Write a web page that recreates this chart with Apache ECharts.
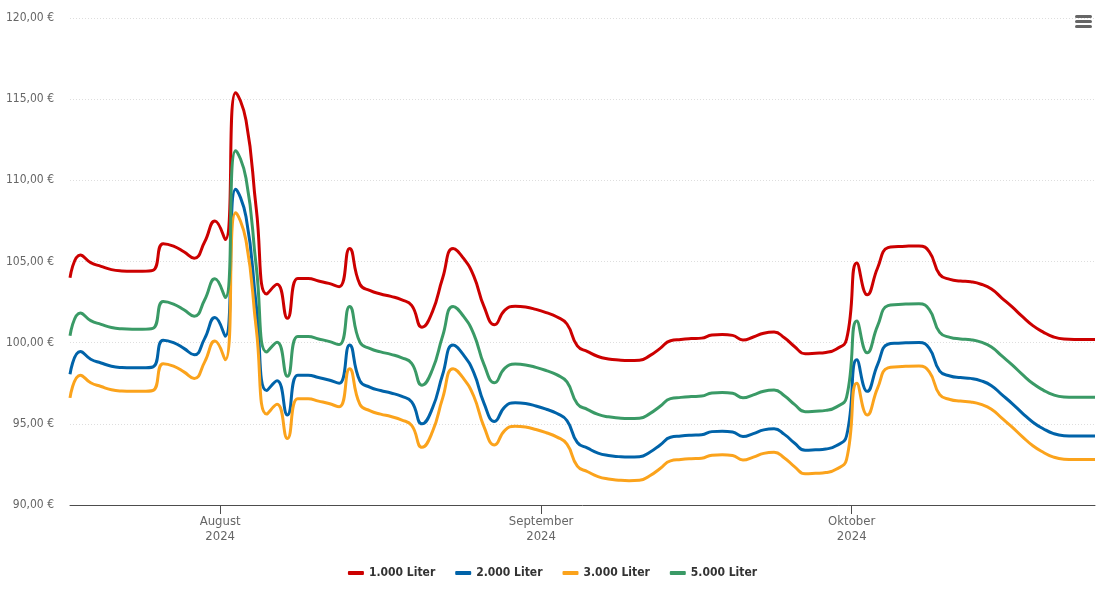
<!DOCTYPE html>
<html>
<head>
<meta charset="utf-8">
<script src="https://cdn.jsdelivr.net/npm/echarts@6/dist/echarts.min.js"></script>
<style>
  html, body { margin: 0; padding: 0; background: #ffffff; }
  #chart { width: 1105px; height: 603px; }
</style>
</head>
<body>
<div id="chart"></div>
<script>
// ---- data ----
const startDate = [2024, 6, 17]; // 17 July 2024, one value per day
const seriesNames = ['1.000 Liter', '2.000 Liter', '3.000 Liter', '5.000 Liter'];
const seriesColors = ['#cc0000', '#0063a9', '#fba31c', '#3a9a66'];

const liter1000 = [
  104.00, 105.40, 104.93, 104.70, 104.50, 104.42, 104.40, 104.40, 104.45, 106.10,
  105.95, 105.60, 105.20, 106.20, 107.50, 106.35, 115.40, 113.70, 108.20, 103.00,
  103.60, 101.50, 103.95, 103.95, 103.80, 103.65, 103.45, 105.80, 103.60, 103.20,
  103.00, 102.85, 102.65, 102.30, 100.95, 101.90, 104.00, 105.80, 105.20, 104.10,
  102.20, 101.10, 102.00, 102.25, 102.20, 102.05, 101.85, 101.60, 101.15, 99.80,
  99.45, 99.15, 99.00, 98.93, 98.90, 98.92, 99.20, 99.65, 100.12, 100.20,
  100.25, 100.28, 100.47, 100.50, 100.45, 100.17, 100.35, 100.58, 100.65, 100.30,
  99.75, 99.32, 99.35, 99.40, 99.60, 100.20, 104.90, 102.95, 104.60, 105.85,
  105.92, 105.95, 105.96, 105.60, 104.20, 103.90, 103.80, 103.75, 103.60, 103.30,
  102.75, 102.20, 101.60, 101.05, 100.65, 100.35, 100.22, 100.20, 100.20, 100.20
];
const liter2000 = [
  98.05, 99.45, 98.98, 98.75, 98.55, 98.47, 98.45, 98.45, 98.50, 100.15,
  100.00, 99.65, 99.25, 100.25, 101.55, 100.40, 109.45, 107.75, 102.25, 97.05,
  97.65, 95.55, 98.00, 98.00, 97.85, 97.70, 97.50, 99.85, 97.65, 97.25,
  97.05, 96.90, 96.70, 96.35, 95.00, 95.95, 98.05, 99.85, 99.25, 98.15,
  96.25, 95.15, 96.05, 96.30, 96.25, 96.10, 95.90, 95.65, 95.20, 93.85,
  93.50, 93.20, 93.05, 92.98, 92.95, 92.97, 93.25, 93.70, 94.17, 94.25,
  94.30, 94.33, 94.52, 94.55, 94.50, 94.22, 94.40, 94.63, 94.70, 94.35,
  93.80, 93.37, 93.40, 93.45, 93.65, 94.25, 98.95, 97.00, 98.65, 99.90,
  99.97, 100.00, 100.01, 99.65, 98.25, 97.95, 97.85, 97.80, 97.65, 97.35,
  96.80, 96.25, 95.65, 95.10, 94.70, 94.40, 94.27, 94.25, 94.25, 94.25
];
const liter3000 = [
  96.60, 98.00, 97.53, 97.30, 97.10, 97.02, 97.00, 97.00, 97.05, 98.70,
  98.55, 98.20, 97.80, 98.80, 100.10, 98.95, 108.00, 106.30, 100.80, 95.60,
  96.20, 94.10, 96.55, 96.55, 96.40, 96.25, 96.05, 98.40, 96.20, 95.80,
  95.60, 95.45, 95.25, 94.90, 93.55, 94.50, 96.60, 98.40, 97.80, 96.70,
  94.80, 93.70, 94.60, 94.85, 94.80, 94.65, 94.45, 94.20, 93.75, 92.40,
  92.05, 91.75, 91.60, 91.53, 91.50, 91.52, 91.80, 92.25, 92.72, 92.80,
  92.85, 92.88, 93.07, 93.10, 93.05, 92.77, 92.95, 93.18, 93.25, 92.90,
  92.35, 91.92, 91.95, 92.00, 92.20, 92.80, 97.50, 95.55, 97.20, 98.45,
  98.52, 98.55, 98.56, 98.20, 96.80, 96.50, 96.40, 96.35, 96.20, 95.90,
  95.35, 94.80, 94.20, 93.65, 93.25, 92.95, 92.82, 92.80, 92.80, 92.80
];
const liter5000 = [
  100.43, 101.83, 101.36, 101.13, 100.93, 100.85, 100.83, 100.83, 100.88, 102.53,
  102.38, 102.03, 101.63, 102.63, 103.93, 102.78, 111.83, 110.13, 104.63, 99.43,
  100.03, 97.93, 100.38, 100.38, 100.23, 100.08, 99.88, 102.23, 100.03, 99.63,
  99.43, 99.28, 99.08, 98.73, 97.38, 98.33, 100.43, 102.23, 101.63, 100.53,
  98.63, 97.53, 98.43, 98.68, 98.63, 98.48, 98.28, 98.03, 97.58, 96.23,
  95.88, 95.58, 95.43, 95.36, 95.33, 95.35, 95.63, 96.08, 96.55, 96.63,
  96.68, 96.71, 96.90, 96.93, 96.88, 96.60, 96.78, 97.01, 97.08, 96.73,
  96.18, 95.75, 95.78, 95.83, 96.03, 96.63, 101.33, 99.38, 101.03, 102.28,
  102.35, 102.38, 102.39, 102.03, 100.63, 100.33, 100.23, 100.18, 100.03, 99.73,
  99.18, 98.63, 98.03, 97.48, 97.08, 96.78, 96.65, 96.63, 96.63, 96.63
];
const monthTicks = [[2024, 7, 1], [2024, 8, 1], [2024, 9, 1]];
const monthLabels = ['August\n2024', 'September\n2024', 'Oktober\n2024'];
const yTicks = { min: 90, max: 120, step: 5 };

// ---- build ----
const allValues = [liter1000, liter2000, liter3000, liter5000];
const dayMs = 86400000;
const t0 = Date.UTC(startDate[0], startDate[1], startDate[2], 12);
const times = liter1000.map((_, i) => t0 + i * dayMs);
const tickTimes = monthTicks.map(m => Date.UTC(m[0], m[1], m[2]));
function labelFor(v) {
  for (let i = 0; i < tickTimes.length; i++) {
    if (Math.abs(tickTimes[i] - v) < 1000) return monthLabels[i];
  }
  return '';
}

const FONT = "'DejaVu Sans Condensed', 'DejaVu Sans', sans-serif";

const chart = echarts.init(document.getElementById('chart'), null, { renderer: 'canvas' });
chart.setOption({
  animation: false,
  backgroundColor: '#ffffff',
  textStyle: { fontFamily: FONT },
  grid: { left: 70, right: 10, top: 18, bottom: 98, containLabel: false },
  legend: {
    bottom: 19,
    left: 'center',
    icon: 'roundRect',
    itemWidth: 16,
    itemHeight: 4,
    itemGap: 20,
    data: seriesNames,
    textStyle: { fontFamily: FONT, fontSize: 12, fontWeight: 'bold', color: '#333333' }
  },
  xAxis: {
    type: 'value',
    min: times[0],
    max: times[times.length - 1],
    axisLine: { lineStyle: { color: '#4d4d4d', width: 1 } },
    axisTick: { show: true, length: 9, lineStyle: { color: '#4d4d4d' }, customValues: tickTimes },
    axisLabel: {
      customValues: tickTimes,
      color: '#666666',
      fontFamily: FONT,
      fontSize: 13,
      lineHeight: 15,
      margin: 9,
      formatter: v => labelFor(v)
    },
    splitLine: { show: false }
  },
  yAxis: {
    type: 'value',
    min: yTicks.min,
    max: yTicks.max,
    interval: yTicks.step,
    axisLine: { show: false },
    axisTick: { show: false },
    axisLabel: {
      color: '#666666',
      fontFamily: FONT,
      fontSize: 12,
      margin: 16,
      formatter: v => v.toFixed(2).replace('.', ',') + ' €'
    },
    splitLine: { lineStyle: { color: '#dedede', type: [1, 2], width: 1 } }
  },
  series: seriesNames.map((name, k) => ({
    name: name,
    type: 'line',
    smooth: 0.5,
    showSymbol: false,
    symbol: 'none',
    color: seriesColors[k],
    lineStyle: { width: 3, color: seriesColors[k] },
    data: times.map((t, i) => [t, allValues[k][i]])
  })),
  graphic: [
    { type: 'rect', right: 13, top: 15, shape: { width: 17, height: 3, r: 1.5 }, style: { fill: '#666666' } },
    { type: 'rect', right: 13, top: 20, shape: { width: 17, height: 3, r: 1.5 }, style: { fill: '#666666' } },
    { type: 'rect', right: 13, top: 25, shape: { width: 17, height: 3, r: 1.5 }, style: { fill: '#666666' } }
  ]
});
</script>
</body>
</html>
